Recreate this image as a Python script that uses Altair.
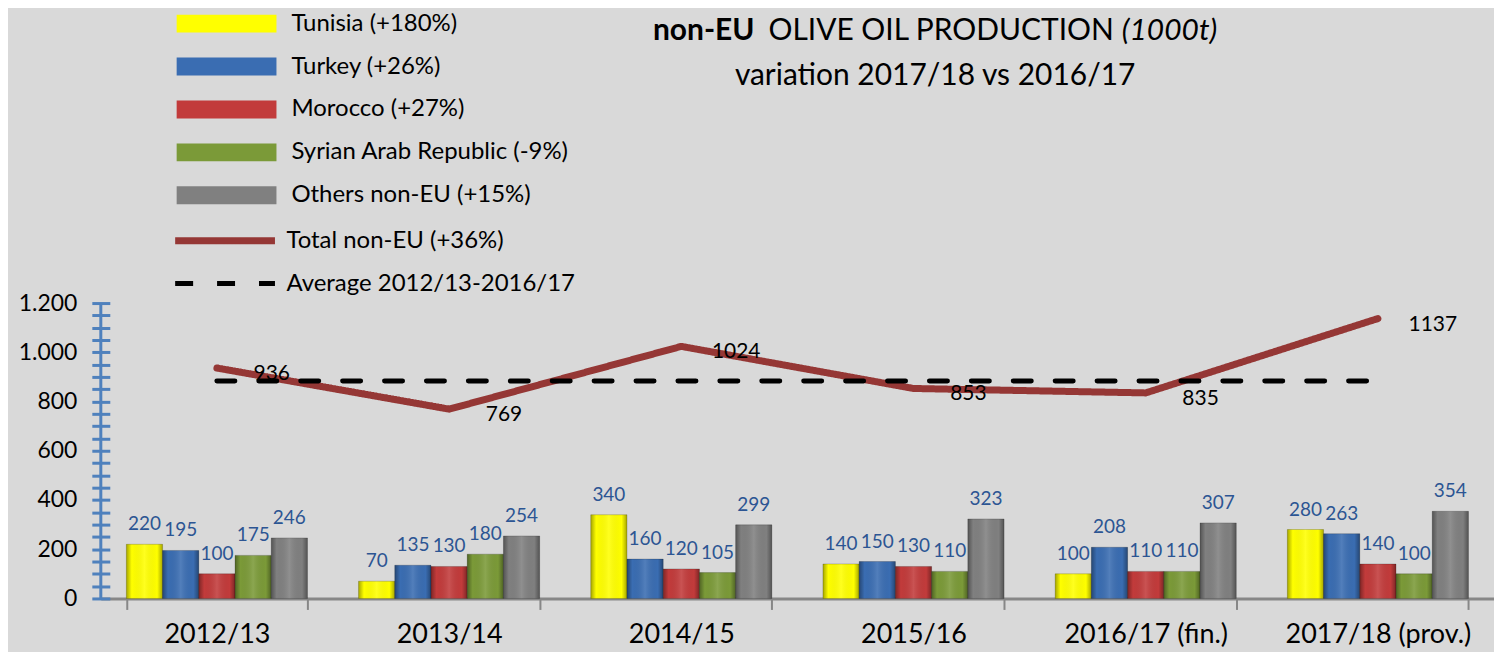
import altair as alt
import pandas as pd

# ---------------- data ----------------
seasons = ["2012/13", "2013/14", "2014/15", "2015/16", "2016/17 (fin.)", "2017/18 (prov.)"]
countries = [
    "Tunisia (+180%)",
    "Turkey (+26%)",
    "Morocco (+27%)",
    "Syrian Arab Republic (-9%)",
    "Others non-EU (+15%)",
]
tunisia = [220, 70, 340, 140, 100, 280]
turkey = [195, 135, 160, 150, 208, 263]
morocco = [100, 130, 120, 130, 110, 140]
syria = [175, 180, 105, 110, 110, 100]
others = [246, 254, 299, 323, 307, 354]
total = [936, 769, 1024, 853, 835, 1137]
average = 883
line_names = ["Total non-EU (+36%)", "Average 2012/13-2016/17"]

bar_colors = ["#ffff00", "#3a6db2", "#c23b3b", "#7b9a38", "#808080"]
line_colors = ["#953735", "#000000"]
FONT = "Lato"

series = [tunisia, turkey, morocco, syria, others]
bar_df = pd.DataFrame(
    [
        {"season": s, "country": c, "value": v}
        for c, vals in zip(countries, series)
        for s, v in zip(seasons, vals)
    ]
)
line_df = pd.DataFrame(
    [{"season": s, "kind": line_names[0], "value": v} for s, v in zip(seasons, total)]
    + [{"season": s, "kind": line_names[1], "value": average} for s in seasons]
)
total_df = pd.DataFrame({"season": seasons, "value": total})

W, H = 1396, 296
TOP = 295

xscale = alt.Scale(domain=seasons, paddingInner=0.22, paddingOuter=0.11)
yscale = alt.Scale(domain=[0, 1200], nice=False)

x_axis = alt.Axis(
    title=None,
    labelAngle=0,
    labelFont=FONT,
    labelFontSize=27,
    labelColor="black",
    labelPadding=12,
    labelLimit=400,
    domainColor="#878787",
    domainWidth=3,
    tickColor="#878787",
    tickWidth=2,
    tickSize=11,
    tickBand="extent",
)
y_axis = alt.Axis(
    title=None,
    values=list(range(0, 1201, 50)),
    labelExpr="datum.value % 200 == 0 ? replace(format(datum.value, ','), ',', '.') : ''",
    labelFont=FONT,
    labelFontSize=23,
    labelColor="black",
    labelPadding=15,
    labelOverlap=False,
    domain=False,
    grid=False,
    tickColor="#4f81bd",
    tickWidth=3,
    tickSize=18,
    offset=-9,
)

X = alt.X("season:N", sort=seasons, scale=xscale, axis=x_axis)
XO = alt.XOffset("country:N", sort=countries, scale=alt.Scale(domain=countries, paddingInner=0, paddingOuter=0))
Y = alt.Y("value:Q", scale=yscale, axis=y_axis)

dy0 = 297 - TOP  # keep the header where it was on the page
bar_legend = alt.Legend(
    orient="none",
    legendX=114,
    legendY=-294 + dy0,
    title=None,
    padding=0,
    symbolType="M-5,-0.9H5V0.9H-5Z",
    symbolSize=400,
    symbolStrokeWidth=0,
    symbolOpacity=1,
    labelOffset=53,
    labelFont=FONT,
    labelFontSize=24,
    labelColor="black",
    rowPadding=19,
    labelLimit=500,
)
line_legend = alt.Legend(
    orient="none",
    legendX=111,
    legendY=-78 + dy0,
    title=None,
    padding=0,
    symbolType="M-5,0H5",
    symbolSize=400,
    symbolFillColor="transparent",
    labelOffset=48,
    labelFont=FONT,
    labelFontSize=24,
    labelColor="black",
    rowPadding=16,
    labelLimit=500,
)

bars = alt.Chart(bar_df).mark_bar(stroke="#00000033", strokeWidth=1).encode(
    x=X,
    xOffset=XO,
    y=Y,
    fill=alt.Fill("country:N", sort=countries,
                  scale=alt.Scale(domain=countries, range=bar_colors), legend=bar_legend),
)

shade = alt.Gradient(
    gradient="linear",
    x1=0, x2=1, y1=0, y2=0,
    stops=[
        alt.GradientStop(color="rgba(0,0,0,0.35)", offset=0),
        alt.GradientStop(color="rgba(0,0,0,0.0)", offset=0.15),
        alt.GradientStop(color="rgba(255,255,255,0.12)", offset=0.5),
        alt.GradientStop(color="rgba(0,0,0,0.0)", offset=0.85),
        alt.GradientStop(color="rgba(0,0,0,0.35)", offset=1),
    ],
)
bars_shade = alt.Chart(bar_df).mark_bar(color=shade).encode(x=X, xOffset=XO, y=Y)

bar_labels = alt.Chart(bar_df).mark_text(
    dy=-20, font=FONT, fontSize=19, color="#2c5593"
).encode(x=X, xOffset=XO, y=Y, text="value:Q")

lines = alt.Chart(line_df).mark_line(strokeCap="round", strokeJoin="round").encode(
    x=X,
    y=Y,
    detail="kind:N",
    stroke=alt.Stroke("kind:N", sort=line_names,
                      scale=alt.Scale(domain=line_names, range=line_colors), legend=line_legend),
    strokeDash=alt.StrokeDash("kind:N", sort=line_names,
                              scale=alt.Scale(domain=line_names, range=[[1, 0], [18, 24]]),
                              legend=line_legend),
    strokeWidth=alt.StrokeWidth("kind:N", sort=line_names,
                                scale=alt.Scale(domain=line_names, range=[7, 5]),
                                legend=line_legend),
)

line_labels = alt.Chart(total_df).mark_text(
    dx=55, dy=6, font=FONT, fontSize=21, color="black"
).encode(x=X, y=Y, text="value:Q")

one = pd.DataFrame({"a": [0]})
axis_line = alt.Chart(one).mark_rule(color="#4f81bd", strokeWidth=3).encode(
    x=alt.value(0), y=alt.value(0), y2=alt.value(H)
)

ty1 = -275 + dy0
ty2 = -229 + dy0
t1 = alt.Chart(one).mark_text(text="non-EU", font=FONT, fontSize=30, fontWeight="bold",
                              align="right", baseline="middle", color="black").encode(
    x=alt.value(655), y=alt.value(ty1))
t2 = alt.Chart(one).mark_text(text="OLIVE OIL PRODUCTION", font=FONT, fontSize=30,
                              align="left", baseline="middle", color="black").encode(
    x=alt.value(669), y=alt.value(ty1))
t3 = alt.Chart(one).mark_text(text="(1000t)", font=FONT, fontSize=30, fontStyle="italic",
                              align="left", baseline="middle", color="black").encode(
    x=alt.value(1023), y=alt.value(ty1))
t4 = alt.Chart(one).mark_text(text="variation 2017/18 vs 2016/17", font=FONT, fontSize=30,
                              align="center", baseline="middle", color="black").encode(
    x=alt.value(836), y=alt.value(ty2))

chart = alt.layer(
    bars, bars_shade, bar_labels, lines, line_labels, axis_line, t1, t2, t3, t4
).resolve_scale(x="shared", y="shared").properties(
    width=W,
    height=H,
    autosize=alt.AutoSizeParams(type="none"),
    padding={"left": 93, "top": TOP, "right": 0, "bottom": 53},
    background="#d9d9d9",
).configure_view(stroke=None)

chart.save("out.html", embed_options={"renderer": "svg", "actions": False})
